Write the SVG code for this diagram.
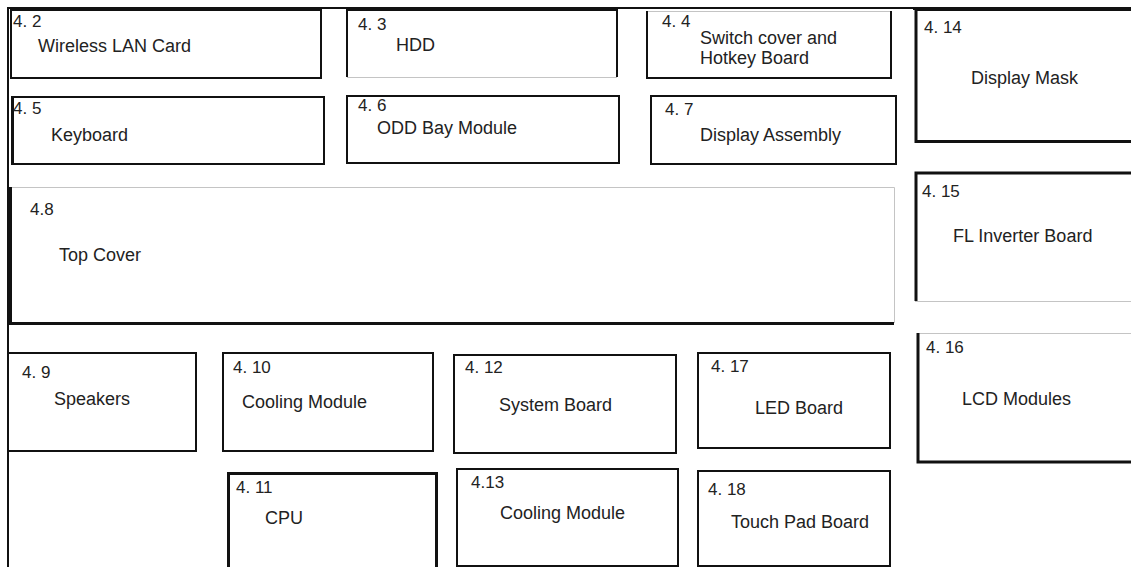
<svg xmlns="http://www.w3.org/2000/svg" width="1131" height="567" viewBox="0 0 1131 567">
<style>
.k{stroke:#111;stroke-width:2;fill:none}
.kt{stroke:#111;stroke-width:3;fill:none}
.g{stroke:#c4c4c4;stroke-width:1;fill:none}
text{font-family:"Liberation Sans",Arial,sans-serif;font-size:18px;fill:#222}
text.n{font-size:17px}
</style>
<rect width="1131" height="567" fill="#fff"/>
<g id="frame">
<path class="k" d="M8 567V8H913"/>
<path class="kt" d="M913 8.5H1131"/>
</g>
<g id="n4_2">
<rect class="k" x="11" y="10" width="310" height="68"/>
<text class="n" x="13" y="27">4. 2</text><text x="38" y="52">Wireless LAN Card</text>
</g>
<g id="n4_3">
<path class="k" d="M347 77V10H617V77"/><path class="g" d="M347 77.5H617"/>
<text class="n" x="358" y="30">4. 3</text><text x="396" y="51">HDD</text>
</g>
<g id="n4_4">
<path class="g" d="M647 11.5H891"/><path class="k" d="M647 11V78H891V11"/>
<text class="n" x="662" y="27">4. 4</text><text x="700" y="44">Switch cover and</text><text x="700" y="64">Hotkey Board</text>
</g>
<g id="n4_14">
<path class="kt" d="M1131 141.5H916V9.5H1131"/>
<text class="n" x="924" y="33">4. 14</text><text x="971" y="84">Display Mask</text>
</g>
<g id="n4_5">
<rect class="k" x="12" y="97" width="312" height="67"/><path class="kt" d="M12.5 97V164"/>
<text class="n" x="13" y="114">4. 5</text><text x="51" y="141">Keyboard</text>
</g>
<g id="n4_6">
<rect class="k" x="347" y="96" width="272" height="67"/>
<text class="n" x="358" y="111">4. 6</text><text x="377" y="134">ODD Bay Module</text>
</g>
<g id="n4_7">
<rect class="k" x="651" y="96" width="245" height="68"/>
<text class="n" x="665" y="115">4. 7</text><text x="700" y="141">Display Assembly</text>
</g>
<g id="n4_8">
<path class="g" d="M10 187.5H894.5V323"/><path class="kt" d="M10.5 187V323.5H894"/>
<text class="n" x="30" y="215">4.8</text><text x="59" y="261">Top Cover</text>
</g>
<g id="n4_15">
<path class="kt" d="M1131 173H916V301"/><path class="g" d="M915 301.5H1131"/>
<text class="n" x="922" y="197">4. 15</text><text x="953" y="242">FL Inverter Board</text>
</g>
<g id="n4_16">
<path class="g" d="M917 333.5H1131"/><path class="kt" d="M918 333V462H1131"/>
<text class="n" x="926" y="353">4. 16</text><text x="962" y="405">LCD Modules</text>
</g>
<g id="n4_9">
<rect class="k" x="8" y="353" width="188" height="98"/>
<text class="n" x="22" y="378">4. 9</text><text x="54" y="405">Speakers</text>
</g>
<g id="n4_10">
<rect class="k" x="223" y="353" width="210" height="98"/>
<text class="n" x="233" y="373">4. 10</text><text x="242" y="408">Cooling Module</text>
</g>
<g id="n4_11">
<path class="kt" d="M228.5 567V473.5H436.5V567"/>
<text class="n" x="236" y="493">4. 11</text><text x="265" y="524">CPU</text>
</g>
<g id="n4_12">
<rect class="k" x="454" y="355" width="222" height="98"/>
<text class="n" x="465" y="373">4. 12</text><text x="499" y="411">System Board</text>
</g>
<g id="n4_17">
<rect class="k" x="698" y="353" width="192" height="95"/>
<text class="n" x="711" y="372">4. 17</text><text x="755" y="414">LED Board</text>
</g>
<g id="n4_13">
<rect class="k" x="457" y="469" width="221" height="97"/>
<text class="n" x="471" y="488">4.13</text><text x="500" y="519">Cooling Module</text>
</g>
<g id="n4_18">
<rect class="k" x="698" y="471" width="192" height="95"/>
<text class="n" x="708" y="495">4. 18</text><text x="731" y="528">Touch Pad Board</text>
</g>
<g id="connectors"></g>
</svg>
